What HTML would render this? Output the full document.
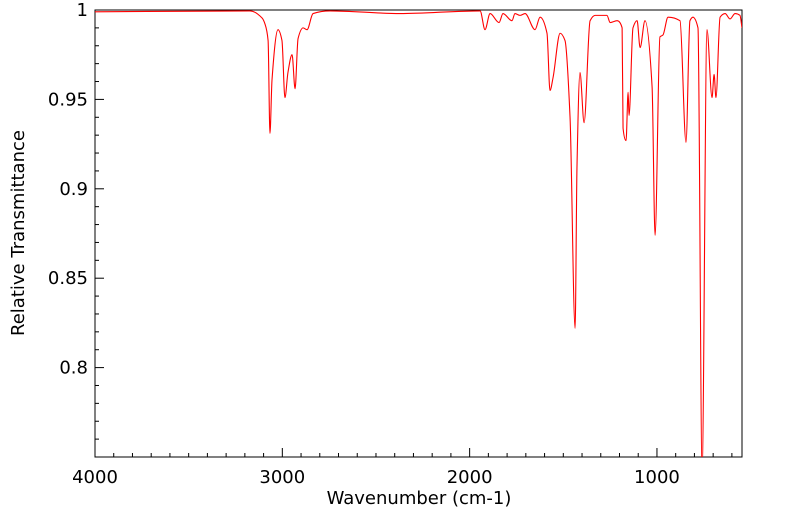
<!DOCTYPE html>
<html><head><meta charset="utf-8"><style>
body{margin:0;background:#fff;}
svg{display:block;font-family:"DejaVu Sans","Liberation Sans",sans-serif;}
</style></head><body>
<svg id="chart" width="799" height="516" xmlns="http://www.w3.org/2000/svg">
<rect x="95" y="10" width="647" height="447" fill="none" stroke="#000" stroke-width="1"/>
<g id="ticks"></g>
<path id="spectrum" fill="none" stroke="#ff0000" stroke-width="1.1"/>
<text x="419" y="504" font-size="18" text-anchor="middle">Wavenumber (cm-1)</text>
<text transform="translate(24,233) rotate(-90)" font-size="18" text-anchor="middle">Relative Transmittance</text>
</svg>
<script>
const wavenumbers=[4000,3172,3108,3092,3076,3066,3055,3023,3002,2986,2970,2948,2932,2916,2889,2868,2836,2745,2372,1944,1918,1891,1843,1822,1774,1758,1731,1704,1651,1624,1587,1571,1555,1517,1491,1464,1437,1427,1411,1389,1357,1330,1267,1250,1213,1186,1181,1165,1154,1149,1128,1106,1090,1064,1026,1010,984,968,941,877,845,824,808,781,759,733,706,695,685,663,636,610,583,557,546];
const transmittance=[0.999,0.9995,0.9955,0.992,0.983,0.931,0.961,0.989,0.983,0.951,0.965,0.975,0.956,0.984,0.990,0.989,0.998,0.9995,0.998,0.9995,0.989,0.998,0.993,0.998,0.994,0.998,0.997,0.998,0.989,0.996,0.987,0.955,0.962,0.987,0.983,0.940,0.822,0.912,0.965,0.937,0.994,0.997,0.997,0.993,0.994,0.990,0.934,0.927,0.954,0.941,0.990,0.994,0.979,0.994,0.957,0.874,0.985,0.986,0.996,0.994,0.926,0.994,0.996,0.990,0.744,0.989,0.951,0.964,0.951,0.996,0.998,0.995,0.998,0.997,0.990];
const xTicks=[4000,3000,2000,1000];
const yTicks=[1,0.95,0.9,0.85,0.8];
const X0=95,X1=742,Y0=10,Y1=457,WMAX=4000,WMIN=546,TMAX=1,TMIN=0.75;
function xs(w){return X0+(WMAX-w)/(WMAX-WMIN)*(X1-X0);}
function ys(t){return Y0+(TMAX-t)/(TMAX-TMIN)*(Y1-Y0);}
const ns="http://www.w3.org/2000/svg";
const svg=document.getElementById('chart');
const defs=document.createElementNS(ns,'defs');
defs.innerHTML='<clipPath id="cp"><rect x="95" y="10" width="647" height="447"/></clipPath>';
svg.insertBefore(defs,svg.firstChild);
// monotone cubic (Fritsch-Carlson) in screen x
const P=wavenumbers.map((w,i)=>[xs(w),ys(transmittance[i])]);
const n=P.length,dl=[],m=[];
for(let i=0;i<n-1;i++)dl.push((P[i+1][1]-P[i][1])/(P[i+1][0]-P[i][0]));
for(let i=0;i<n;i++){
 if(i===0)m.push(dl[0]);else if(i===n-1)m.push(dl[n-2]);
 else if(dl[i-1]*dl[i]<=0)m.push(0);
 else{const h0=P[i][0]-P[i-1][0],h1=P[i+1][0]-P[i][0];const w1=2*h1+h0,w2=h1+2*h0;m.push((w1+w2)/(w1/dl[i-1]+w2/dl[i]));}
}
let d='M'+P[0][0]+','+P[0][1];
for(let i=0;i<n-1;i++){
 const h=(P[i+1][0]-P[i][0])/3;
 d+=' C'+(P[i][0]+h)+','+(P[i][1]+m[i]*h)+' '+(P[i+1][0]-h)+','+(P[i+1][1]-m[i+1]*h)+' '+P[i+1][0]+','+P[i+1][1];
}
const sp=document.getElementById('spectrum');
sp.setAttribute('d',d);
sp.setAttribute('clip-path','url(#cp)');
const g=document.getElementById('ticks');
function line(x1,y1,x2,y2,name){
 const l=document.createElementNS(ns,'line');
 l.setAttribute('x1',x1);l.setAttribute('y1',y1);l.setAttribute('x2',x2);l.setAttribute('y2',y2);
 l.setAttribute('stroke','#000');
 
 
 g.appendChild(l);
}
for(let w=4000;w>=WMIN;w-=100){
 const major=w%1000===0;
 line(xs(w),Y1,xs(w),Y1-(major?9:4),major?'x-major-tick':'x-minor-tick');
}
for(let k=0;k<=25;k++){
 const t=1-k*0.01;
 const major=k%5===0;
 line(X0,ys(t),X0+(major?9:4),ys(t),major?'y-major-tick':'y-minor-tick');
}
xTicks.forEach(w=>{
 const t=document.createElementNS(ns,'text');
 t.setAttribute('x',xs(w));t.setAttribute('y',483);
 t.setAttribute('text-anchor','middle');t.setAttribute('font-size','18');
 t.textContent=w;
 
 
 svg.appendChild(t);
});
yTicks.forEach(v=>{
 const t=document.createElementNS(ns,'text');
 t.setAttribute('x',88);t.setAttribute('y',ys(v)+6);
 t.setAttribute('text-anchor','end');t.setAttribute('font-size','18');
 t.textContent=String(v);
 
 
 svg.appendChild(t);
});
</script>
</body></html>
